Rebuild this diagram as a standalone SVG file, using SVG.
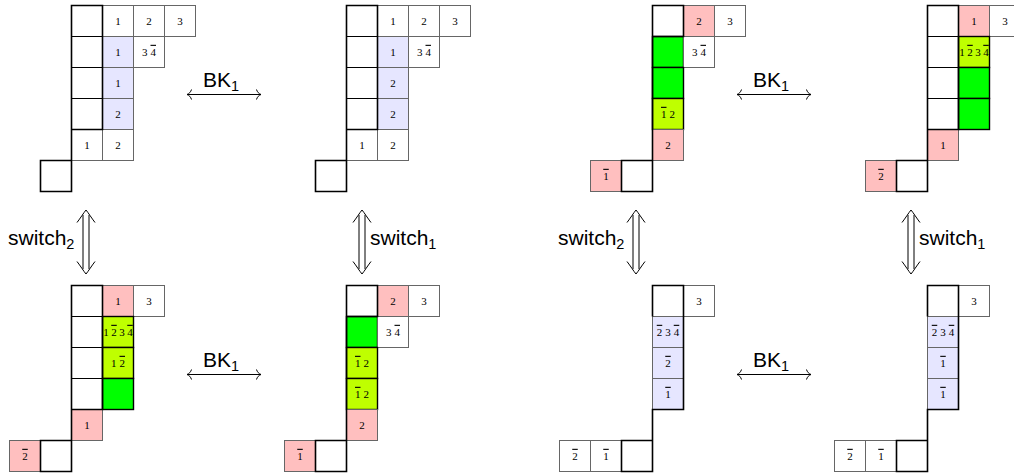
<svg xmlns="http://www.w3.org/2000/svg" width="1014" height="473" viewBox="0 0 1014 473">
<style>
rect{width:31px;height:31px}
.c{fill:#fff;stroke:#666;stroke-width:1}
.e{fill:#fff;stroke:#000;stroke-width:1}
.lav{fill:#e6e6ff}
.pk{fill:#ffbfbf}
.gr{fill:#00ff00;stroke:#000;stroke-width:1.4}
.lm{fill:#bfff00;stroke:#000;stroke-width:1.4}
.thk{fill:none;stroke:#000;stroke-width:1.6}
.n{font-family:"Liberation Serif",serif;font-size:11px;text-anchor:middle;fill:#000}
.o{text-decoration:overline}
.lbl{font-family:"Liberation Sans",sans-serif;font-size:21px;fill:#000}
.sub{font-size:14.5px}
.ar{fill:none;stroke:#000;stroke-width:1}
</style>
<g id="t1">
<rect class="e" x="71.5" y="5.5"/><rect class="e" x="71.5" y="36.5"/><rect class="e" x="71.5" y="67.5"/><rect class="e" x="71.5" y="98.5"/>
<rect class="c" x="102.5" y="5.5"/><rect class="c" x="133.5" y="5.5"/><rect class="c" x="164.5" y="5.5"/>
<rect class="c lav" x="102.5" y="36.5"/><rect class="c" x="133.5" y="36.5"/>
<rect class="c lav" x="102.5" y="67.5"/><rect class="c lav" x="102.5" y="98.5"/>
<rect class="c" x="71.5" y="129.5"/><rect class="c" x="102.5" y="129.5"/>
<rect class="e" x="40.5" y="160.5"/>
<path class="thk" d="M71.5 5.5H102.5V129.5H71.5Z M71.5 129.5V160.5 M40.5 160.5H71.5V191.5H40.5Z"/>
<text class="n" x="118" y="24.8">1</text><text class="n" x="149" y="24.8">2</text><text class="n" x="180" y="24.8">3</text>
<text class="n" x="118" y="55.8">1</text><text class="n" x="149" y="55.8">3<tspan dx="3" class="o">4</tspan></text>
<text class="n" x="118" y="86.8">1</text><text class="n" x="118" y="117.8">2</text>
<text class="n" x="87" y="148.8">1</text><text class="n" x="118" y="148.8">2</text>
</g>
<g id="t2">
<rect class="e" x="346.5" y="5.5"/><rect class="e" x="346.5" y="36.5"/><rect class="e" x="346.5" y="67.5"/><rect class="e" x="346.5" y="98.5"/>
<rect class="c" x="377.5" y="5.5"/><rect class="c" x="408.5" y="5.5"/><rect class="c" x="439.5" y="5.5"/>
<rect class="c lav" x="377.5" y="36.5"/><rect class="c" x="408.5" y="36.5"/>
<rect class="c lav" x="377.5" y="67.5"/><rect class="c lav" x="377.5" y="98.5"/>
<rect class="c" x="346.5" y="129.5"/><rect class="c" x="377.5" y="129.5"/>
<rect class="e" x="315.5" y="160.5"/>
<path class="thk" d="M346.5 5.5H377.5V129.5H346.5Z M346.5 129.5V160.5 M315.5 160.5H346.5V191.5H315.5Z"/>
<text class="n" x="393" y="24.8">1</text><text class="n" x="424" y="24.8">2</text><text class="n" x="455" y="24.8">3</text>
<text class="n" x="393" y="55.8">1</text><text class="n" x="424" y="55.8">3<tspan dx="3" class="o">4</tspan></text>
<text class="n" x="393" y="86.8">2</text><text class="n" x="393" y="117.8">2</text>
<text class="n" x="362" y="148.8">1</text><text class="n" x="393" y="148.8">2</text>
</g>
<g id="t3">
<rect class="e" x="652.5" y="5.5"/><rect class="c pk" x="683.5" y="5.5"/><rect class="c" x="714.5" y="5.5"/>
<rect class="gr" x="652.5" y="36.5"/><rect class="c" x="683.5" y="36.5"/>
<rect class="gr" x="652.5" y="67.5"/><rect class="lm" x="652.5" y="98.5"/>
<rect class="c pk" x="652.5" y="129.5"/>
<rect class="c pk" x="590.5" y="160.5"/><rect class="e" x="621.5" y="160.5"/>
<path class="thk" d="M652.5 5.5H683.5V36.5H652.5Z M652.5 36.5V160.5 M621.5 160.5H652.5V191.5H621.5Z"/>
<text class="n" x="699" y="24.8">2</text><text class="n" x="730" y="24.8">3</text>
<text class="n" x="699" y="55.8">3<tspan dx="3" class="o">4</tspan></text>
<text class="n" x="668" y="117.8"><tspan class="o">1</tspan><tspan dx="3">2</tspan></text>
<text class="n" x="668" y="148.8">2</text>
<text class="n" x="606" y="179.8"><tspan class="o">1</tspan></text>
</g>
<g id="t4">
<rect class="e" x="927.5" y="5.5"/><rect class="e" x="927.5" y="36.5"/><rect class="e" x="927.5" y="67.5"/><rect class="e" x="927.5" y="98.5"/>
<rect class="c pk" x="958.5" y="5.5"/><rect class="c" x="989.5" y="5.5"/>
<rect class="lm" x="958.5" y="36.5"/><rect class="gr" x="958.5" y="67.5"/><rect class="gr" x="958.5" y="98.5"/>
<rect class="c pk" x="927.5" y="129.5"/>
<rect class="c pk" x="865.5" y="160.5"/><rect class="e" x="896.5" y="160.5"/>
<path class="thk" d="M927.5 5.5H958.5V129.5H927.5Z M927.5 129.5V160.5 M896.5 160.5H927.5V191.5H896.5Z"/>
<text class="n" x="974" y="24.8">1</text><text class="n" x="1005" y="24.8">3</text>
<text class="n" x="974" y="55.8">1<tspan dx="2.5" class="o">2</tspan><tspan dx="2.5">3</tspan><tspan dx="2.5" class="o">4</tspan></text>
<text class="n" x="943" y="148.8">1</text>
<text class="n" x="881" y="179.8"><tspan class="o">2</tspan></text>
</g>
<g id="t5">
<rect class="e" x="71.5" y="285.5"/><rect class="e" x="71.5" y="316.5"/><rect class="e" x="71.5" y="347.5"/><rect class="e" x="71.5" y="378.5"/>
<rect class="c pk" x="102.5" y="285.5"/><rect class="c" x="133.5" y="285.5"/>
<rect class="lm" x="102.5" y="316.5"/><rect class="lm" x="102.5" y="347.5"/><rect class="gr" x="102.5" y="378.5"/>
<rect class="c pk" x="71.5" y="409.5"/>
<rect class="c pk" x="9.5" y="440.5"/><rect class="e" x="40.5" y="440.5"/>
<path class="thk" d="M71.5 285.5H102.5V409.5H71.5Z M71.5 409.5V440.5 M40.5 440.5H71.5V471.5H40.5Z"/>
<text class="n" x="118" y="304.8">1</text><text class="n" x="149" y="304.8">3</text>
<text class="n" x="118" y="335.8">1<tspan dx="2.5" class="o">2</tspan><tspan dx="2.5">3</tspan><tspan dx="2.5" class="o">4</tspan></text>
<text class="n" x="118" y="366.8">1<tspan dx="3" class="o">2</tspan></text>
<text class="n" x="87" y="428.8">1</text>
<text class="n" x="25" y="459.8"><tspan class="o">2</tspan></text>
</g>
<g id="t6">
<rect class="e" x="346.5" y="285.5"/><rect class="c pk" x="377.5" y="285.5"/><rect class="c" x="408.5" y="285.5"/>
<rect class="gr" x="346.5" y="316.5"/><rect class="c" x="377.5" y="316.5"/>
<rect class="lm" x="346.5" y="347.5"/><rect class="lm" x="346.5" y="378.5"/>
<rect class="c pk" x="346.5" y="409.5"/>
<rect class="c pk" x="284.5" y="440.5"/><rect class="e" x="315.5" y="440.5"/>
<path class="thk" d="M346.5 285.5H377.5V316.5H346.5Z M346.5 316.5V440.5 M315.5 440.5H346.5V471.5H315.5Z"/>
<text class="n" x="393" y="304.8">2</text><text class="n" x="424" y="304.8">3</text>
<text class="n" x="393" y="335.8">3<tspan dx="3" class="o">4</tspan></text>
<text class="n" x="362" y="366.8"><tspan class="o">1</tspan><tspan dx="3">2</tspan></text>
<text class="n" x="362" y="397.8"><tspan class="o">1</tspan><tspan dx="3">2</tspan></text>
<text class="n" x="362" y="428.8">2</text>
<text class="n" x="300" y="459.8"><tspan class="o">1</tspan></text>
</g>
<g id="t7">
<rect class="e" x="652.5" y="285.5"/><rect class="c" x="683.5" y="285.5"/>
<rect class="c lav" x="652.5" y="316.5"/><rect class="c lav" x="652.5" y="347.5"/><rect class="c lav" x="652.5" y="378.5"/>
<rect class="c" x="559.5" y="440.5"/><rect class="c" x="590.5" y="440.5"/><rect class="e" x="621.5" y="440.5"/>
<path class="thk" d="M652.5 316.5V285.5H683.5V409.5H652.5V440.5 M621.5 440.5H652.5V471.5H621.5Z"/>
<text class="n" x="699" y="304.8">3</text>
<text class="n" x="668" y="335.8"><tspan class="o">2</tspan><tspan dx="3">3</tspan><tspan dx="3" class="o">4</tspan></text>
<text class="n" x="668" y="366.8"><tspan class="o">2</tspan></text>
<text class="n" x="668" y="397.8"><tspan class="o">1</tspan></text>
<text class="n" x="575" y="459.8"><tspan class="o">2</tspan></text>
<text class="n" x="606" y="459.8"><tspan class="o">1</tspan></text>
</g>
<g id="t8">
<rect class="e" x="927.5" y="285.5"/><rect class="c" x="958.5" y="285.5"/>
<rect class="c lav" x="927.5" y="316.5"/><rect class="c lav" x="927.5" y="347.5"/><rect class="c lav" x="927.5" y="378.5"/>
<rect class="c" x="834.5" y="440.5"/><rect class="c" x="865.5" y="440.5"/><rect class="e" x="896.5" y="440.5"/>
<path class="thk" d="M927.5 316.5V285.5H958.5V409.5H927.5V440.5 M896.5 440.5H927.5V471.5H896.5Z"/>
<text class="n" x="974" y="304.8">3</text>
<text class="n" x="943" y="335.8"><tspan class="o">2</tspan><tspan dx="3">3</tspan><tspan dx="3" class="o">4</tspan></text>
<text class="n" x="943" y="366.8"><tspan class="o">1</tspan></text>
<text class="n" x="943" y="397.8"><tspan class="o">1</tspan></text>
<text class="n" x="850" y="459.8"><tspan class="o">2</tspan></text>
<text class="n" x="881" y="459.8"><tspan class="o">1</tspan></text>
</g>
<g id="connectors">
<path class="ar" d="M187 94.5H261 M191.5 89.5C190.8 92 189 93.8 187 94.5C189 95.2 190.8 97 191.5 99.5 M256.5 89.5C257.2 92 259 93.8 261 94.5C259 95.2 257.2 97 256.5 99.5"/>
<path class="ar" d="M737 94.5H811 M741.5 89.5C740.8 92 739 93.8 737 94.5C739 95.2 740.8 97 741.5 99.5 M806.5 89.5C807.2 92 809 93.8 811 94.5C809 95.2 807.2 97 806.5 99.5"/>
<path class="ar" d="M187 374.5H261 M191.5 369.5C190.8 372 189 373.8 187 374.5C189 375.2 190.8 377 191.5 379.5 M256.5 369.5C257.2 372 259 373.8 261 374.5C259 375.2 257.2 377 256.5 379.5"/>
<path class="ar" d="M737 374.5H811 M741.5 369.5C740.8 372 739 373.8 737 374.5C739 375.2 740.8 377 741.5 379.5 M806.5 369.5C807.2 372 809 373.8 811 374.5C809 375.2 807.2 377 806.5 379.5"/>
<path class="ar" d="M83 215V269 M89 215V269 M77 222.5C80.5 218 83.5 213 86 210C88.5 213 91.5 218 95 222.5 M77 261.5C80.5 266 83.5 271 86 274C88.5 271 91.5 266 95 261.5"/>
<path class="ar" d="M359 215V269 M365 215V269 M353 222.5C356.5 218 359.5 213 362 210C364.5 213 367.5 218 371 222.5 M353 261.5C356.5 266 359.5 271 362 274C364.5 271 367.5 266 371 261.5"/>
<path class="ar" d="M633 215V269 M639 215V269 M627 222.5C630.5 218 633.5 213 636 210C638.5 213 641.5 218 645 222.5 M627 261.5C630.5 266 633.5 271 636 274C638.5 271 641.5 266 645 261.5"/>
<path class="ar" d="M908 215V269 M914 215V269 M902 222.5C905.5 218 908.5 213 911 210C913.5 213 916.5 218 920 222.5 M902 261.5C905.5 266 908.5 271 911 274C913.5 271 916.5 266 920 261.5"/>
<text class="lbl" x="203" y="86.5">BK<tspan class="sub" dy="4">1</tspan></text>
<text class="lbl" x="753" y="86.5">BK<tspan class="sub" dy="4">1</tspan></text>
<text class="lbl" x="203" y="366.5">BK<tspan class="sub" dy="4">1</tspan></text>
<text class="lbl" x="753" y="366.5">BK<tspan class="sub" dy="4">1</tspan></text>
<text class="lbl" x="8" y="245">switch<tspan class="sub" dy="4">2</tspan></text>
<text class="lbl" x="370" y="245">switch<tspan class="sub" dy="4">1</tspan></text>
<text class="lbl" x="558" y="245">switch<tspan class="sub" dy="4">2</tspan></text>
<text class="lbl" x="919" y="245">switch<tspan class="sub" dy="4">1</tspan></text>
</g>
</svg>
